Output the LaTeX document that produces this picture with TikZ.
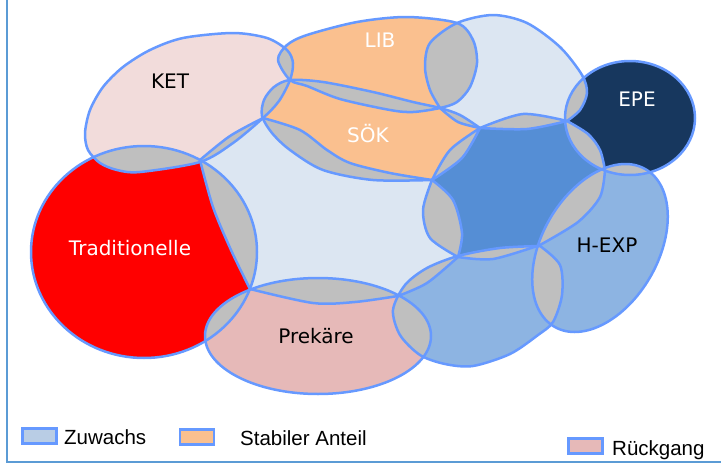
\documentclass[tikz,border=0pt]{standalone}
\usepackage{fontspec}
\setmainfont{DejaVu Sans}
\newfontfamily\legfont{Liberation Sans}
\definecolor{ol}{RGB}{102,153,255}
\definecolor{cket}{RGB}{242,220,219}
\definecolor{cor}{RGB}{250,192,143}
\definecolor{clb}{RGB}{220,230,242}
\definecolor{cepe}{RGB}{23,55,94}
\definecolor{cada}{RGB}{85,142,213}
\definecolor{cmb}{RGB}{141,180,226}
\definecolor{cprek}{RGB}{230,185,184}
\definecolor{ctrad}{RGB}{255,0,0}
\definecolor{cgr}{RGB}{191,191,191}
\definecolor{cframe}{RGB}{91,155,213}
\definecolor{cleg}{RGB}{185,205,229}
\def\pKET{plot[smooth cycle] coordinates {(85,133) (90,110) (103,87) (123,67) (150,50) (183,38) (233,33) (267,38) (287,50) (293,63) (290,80) (279,101) (263,118) (233,143) (200,162) (140,172) (117,170) (100,163) (88,150)}}
\def\pLIB{plot[smooth cycle] coordinates {(278,60) (287,45) (307,35) (357,22) (407,17) (457,23) (473,40) (477,63) (470,87) (457,102) (440,108) (413,112) (390,110) (340,99) (307,86) (290,80)}}
\def\pSOK{plot[smooth] coordinates {(480,128) (460,115) (440,108) (413,102) (373,92) (323,82) (290,80) (274,87) (264,100) (262,116) (272,133) (290,150) (323,170) (373,180) (432,180)} -- plot[smooth] coordinates {(432,180) (462,158) (480,128)} -- cycle}
\def\pT{plot[smooth] coordinates {(440,108) (430,90) (425,67) (430,43) (457,23) (493,15) (527,23) (560,47) (582,75) (587,93) (580,110) (567,121)} -- plot[smooth] coordinates {(567,121) (527,129) (480,128)} -- plot[smooth] coordinates {(480,128) (458,122) (440,108)} -- cycle}
\def\pEPE{(630,118) ellipse [x radius=65, y radius=57]}
\def\pADA{plot[smooth] coordinates {(432,180) (450,150) (480,128)} -- plot[smooth] coordinates {(480,128) (523,114) (567,121)} -- plot[smooth] coordinates {(567,121) (588,134) (600,150) (605,170)} -- plot[smooth] coordinates {(605,170) (600,197) (578,222) (540,245)} -- plot[smooth] coordinates {(540,245) (493,259) (458,257)} -- plot[smooth] coordinates {(458,257) (430,238) (423,210) (432,180)} -- cycle}
\def\pC{plot[smooth] coordinates {(200,160) (230,136) (263,118)} -- plot[smooth] coordinates {(263,118) (300,130) (327,150) (350,163) (390,173) (432,180)} -- plot[smooth] coordinates {(432,180) (453,200) (462,233) (458,257)} -- plot[smooth] coordinates {(458,257) (427,283) (398,296)} -- plot[smooth] coordinates {(398,296) (355,302) (313,303) (250,289)} -- plot[smooth] coordinates {(250,289) (231,250) (213,207) (200,160)} -- cycle}
\def\pLB{plot[smooth] coordinates {(540,246) (500,248) (458,256) (427,268) (405,285) (393,310) (400,335) (420,355) (445,364) (473,366) (510,354) (538,335) (553,322) (562,295) (560,265) (540,246)} -- cycle}
\def\pHEXP{[rotate around={60:(600,248)}] (600,248) ellipse [x radius=91, y radius=58]}
\def\pPrek{(318,336) ellipse [x radius=113, y radius=58]}
\def\pTrad{(144,252) ellipse [x radius=113, y radius=106]}
\newcommand\grayov[2]{\begin{scope}\clip #1; \fill[cgr] #2; \end{scope}}
\tikzset{
  outl/.style={draw=ol, line width=2.5pt, line join=round},
  lab/.style={font=\fontsize{20}{24}\selectfont, inner sep=0pt, anchor=base},
  legtxt/.style={font=\legfont\fontsize{20.5}{24}\selectfont, inner sep=0pt, anchor=base west},
  legbox/.style={draw=ol, line width=2.5pt, minimum width=34pt, minimum height=15pt, inner sep=0pt}
}
\begin{document}
\begin{tikzpicture}[x=1pt,y=-1pt]
\useasboundingbox (0,0) rectangle (721,469);
\fill[white] (0,0) rectangle (721,469);
% fills
\fill[cket] \pKET;
\fill[cor] \pLIB;
\fill[cor] \pSOK;
\fill[clb] \pT;
\fill[cepe] \pEPE;
\fill[clb] \pC;
\fill[cada] \pADA;
\fill[cmb] \pLB;
\fill[cmb] \pHEXP;
\fill[cprek] \pPrek;
\fill[ctrad] \pTrad;
% overlaps
\grayov{\pKET}{\pTrad}
\grayov{\pKET}{\pC}
\grayov{\pKET}{\pLIB}
\grayov{\pKET}{\pSOK}
\grayov{\pLIB}{\pSOK}
\grayov{\pLIB}{\pT}
\grayov{\pSOK}{\pT}
\grayov{\pSOK}{\pC}
\grayov{\pSOK}{\pADA}
\grayov{\pT}{\pADA}
\grayov{\pT}{\pEPE}
\grayov{\pEPE}{\pADA}
\grayov{\pEPE}{\pHEXP}
\grayov{\pADA}{\pHEXP}
\grayov{\pADA}{\pC}
\grayov{\pADA}{\pLB}
\grayov{\pLB}{\pHEXP}
\grayov{\pLB}{\pC}
\grayov{\pLB}{\pPrek}
\grayov{\pPrek}{\pC}
\grayov{\pPrek}{\pTrad}
\grayov{\pTrad}{\pC}
% outlines
\path[outl] \pKET;
\path[outl] \pLIB;
\path[outl] \pSOK;
\path[outl] \pT;
\path[outl] \pEPE;
\path[outl] \pC;
\path[outl] \pADA;
\path[outl] \pLB;
\path[outl] \pHEXP;
\path[outl] \pPrek;
\path[outl] \pTrad;
% labels
\node[lab] (lKET) at (170,88) {KET};
\node[lab, text=white] (lLIB) at (380,47) {LIB};
\node[lab, text=white] (lSOK) at (368,142) {SÖK};
\node[lab, text=white] (lEPE) at (637,106) {EPE};
\node[lab] (lHEXP) at (607,252) {H-EXP};
\node[lab, text=white] (lTrad) at (130,255) {Traditionelle};
\node[lab] (lPrek) at (316,343) {Prekäre};
% frame
\draw[cframe, line width=2pt] (7,0) -- (7,462) -- (721,462);
% legend
\node[legbox, fill=cleg] (b1) at (39.5,436) {};
\node[legtxt] (t1) at (64,444) {Zuwachs};
\node[legbox, fill=cor] (b2) at (197,437) {};
\node[legtxt] (t2) at (240,445) {Stabiler Anteil};
\node[legbox, fill=cprek] (b3) at (585.5,446) {};
\node[legtxt] (t3) at (612,455) {Rückgang};
\end{tikzpicture}
\end{document}
